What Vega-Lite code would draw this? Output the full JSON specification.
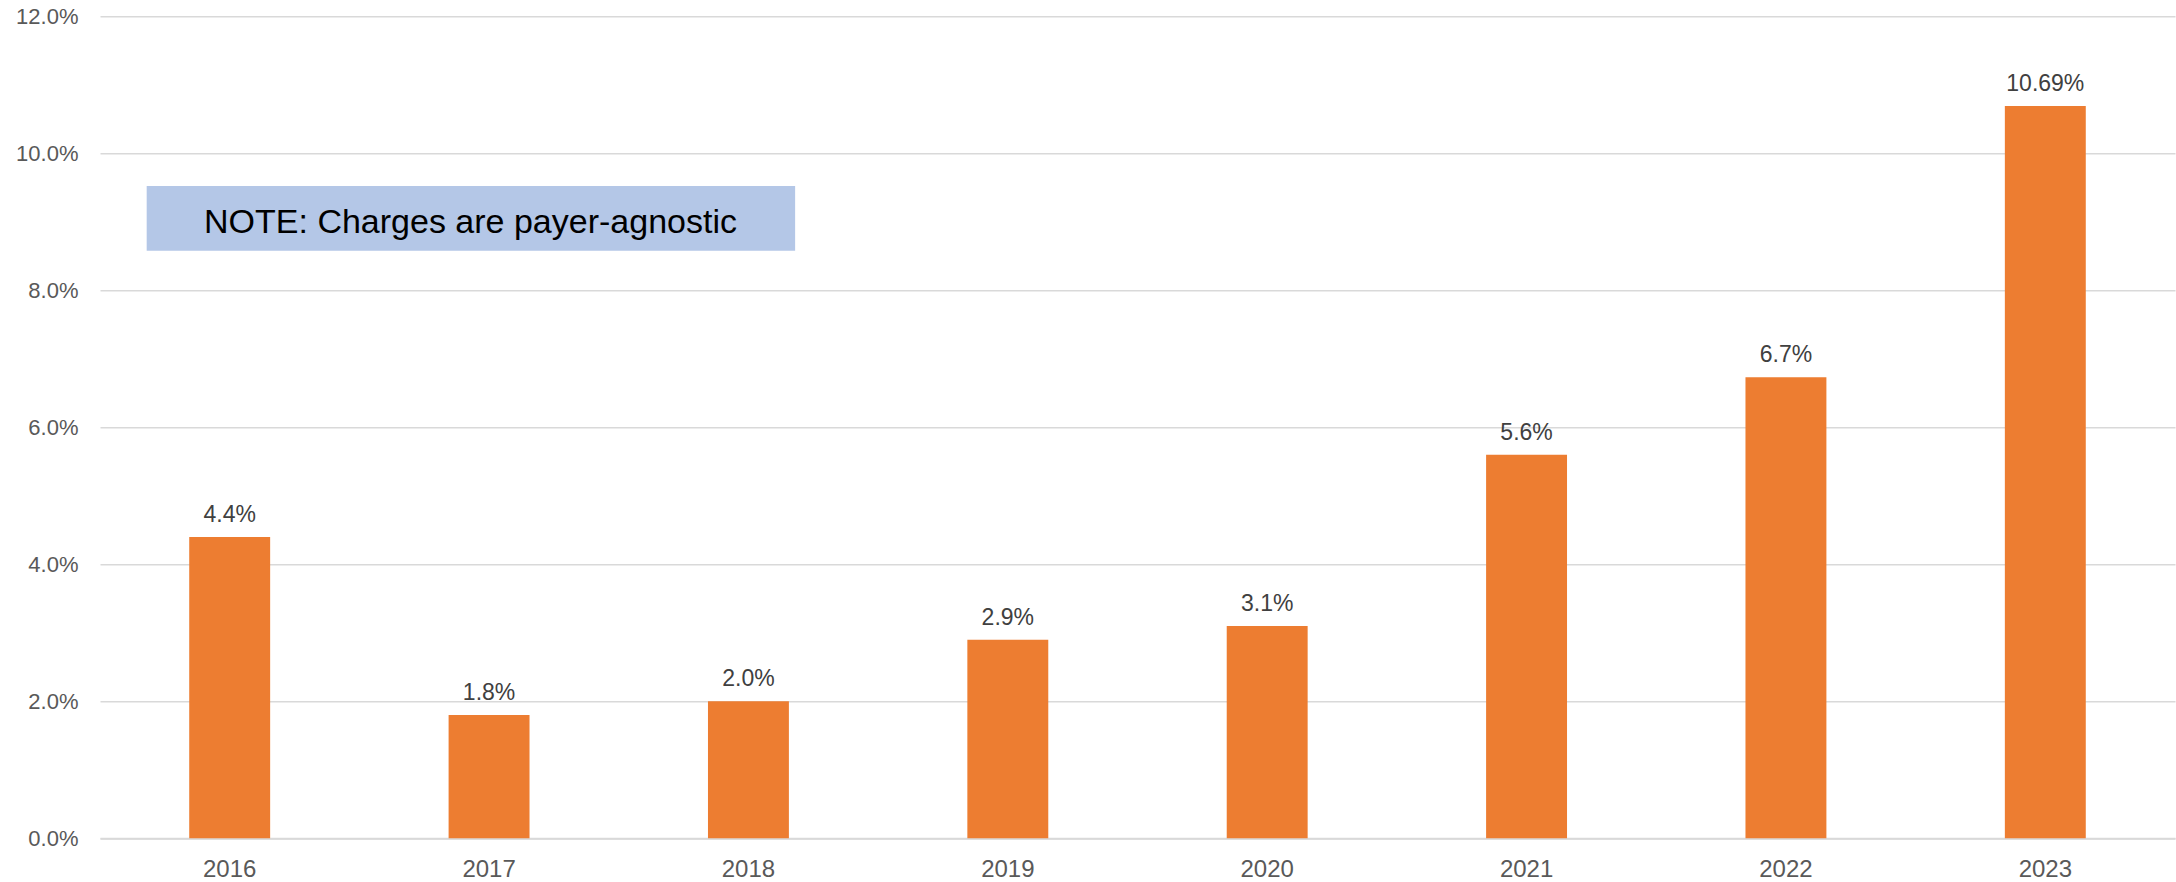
{
  "$schema": "https://vega.github.io/schema/vega-lite/v6.json",
  "width": 2075,
  "height": 822,
  "autosize": {"type": "none"},
  "padding": {"left": 100, "top": 16.3, "right": 1, "bottom": 43.7},
  "background": "white",
  "config": {"view": {"stroke": null}, "font": "Liberation Sans"},
  "datasets": {
    "bars": [
      {"year": "2016", "value": 0.044, "label": "4.4%"},
      {"year": "2017", "value": 0.018, "label": "1.8%"},
      {"year": "2018", "value": 0.020, "label": "2.0%"},
      {"year": "2019", "value": 0.029, "label": "2.9%"},
      {"year": "2020", "value": 0.031, "label": "3.1%"},
      {"year": "2021", "value": 0.056, "label": "5.6%"},
      {"year": "2022", "value": 0.0673, "label": "6.7%"},
      {"year": "2023", "value": 0.1069, "label": "10.69%"}
    ]
  },
  "layer": [
    {
      "data": {"name": "bars"},
      "layer": [
        {
          "mark": {"type": "bar", "color": "#ED7D31"},
          "encoding": {
            "x": {
              "field": "year",
              "type": "ordinal",
              "scale": {"paddingInner": 0.688, "paddingOuter": 0.344},
              "axis": {
                "title": null,
                "labelAngle": 0,
                "ticks": false,
                "tickSize": 0,
                "domain": true,
                "domainColor": "#D9D9D9",
                "domainWidth": 2,
                "grid": false,
                "labelFontSize": 24,
                "labelColor": "#595959",
                "labelPadding": 19.5
              }
            },
            "y": {
              "field": "value",
              "type": "quantitative",
              "scale": {"domain": [0, 0.12], "nice": false},
              "axis": {
                "title": null,
                "values": [0, 0.02, 0.04, 0.06, 0.08, 0.1, 0.12],
                "format": ".1%",
                "grid": true,
                "gridColor": "#D9D9D9",
                "gridWidth": 1.5,
                "domain": false,
                "ticks": false,
                "tickSize": 0,
                "labelFontSize": 22,
                "labelColor": "#595959",
                "labelPadding": 22
              }
            }
          }
        },
        {
          "mark": {"type": "text", "baseline": "alphabetic", "dy": -15, "fontSize": 23, "color": "#404040"},
          "encoding": {
            "x": {"field": "year", "type": "ordinal"},
            "y": {"field": "value", "type": "quantitative"},
            "text": {"field": "label"}
          }
        }
      ]
    },
    {
      "data": {"values": [{"note": "NOTE: Charges are payer-agnostic"}]},
      "layer": [
        {
          "mark": {"type": "rect", "color": "#B4C7E7"},
          "encoding": {
            "x": {"datum": 0.18, "type": "quantitative", "scale": {"domain": [0, 8], "nice": false, "zero": false}, "axis": null},
            "x2": {"datum": 2.68},
            "y": {"datum": 0.09523, "type": "quantitative"},
            "y2": {"datum": 0.08578}
          }
        },
        {
          "mark": {"type": "text", "fontSize": 34, "color": "black", "baseline": "alphabetic", "align": "center"},
          "encoding": {
            "x": {"datum": 1.4285, "type": "quantitative", "scale": {"domain": [0, 8], "nice": false, "zero": false}, "axis": null},
            "y": {"datum": 0.08836, "type": "quantitative"},
            "text": {"field": "note"}
          }
        }
      ]
    }
  ],
  "resolve": {"scale": {"x": "independent"}}
}
